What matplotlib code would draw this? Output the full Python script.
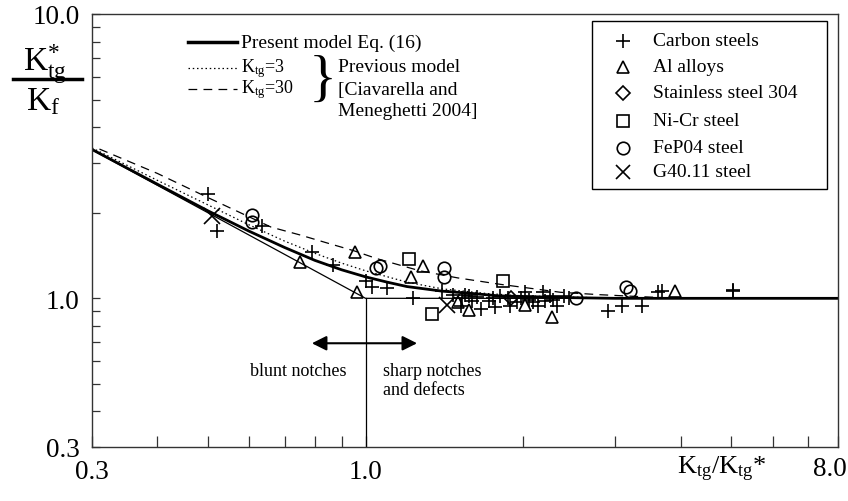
import numpy as np
import matplotlib.pyplot as plt
from matplotlib.lines import Line2D
from matplotlib.patches import Rectangle

plt.rcParams['font.family'] = ['Liberation Serif', 'DejaVu Serif']
plt.rcParams['mathtext.fontset'] = 'custom'
plt.rcParams['mathtext.rm'] = 'Liberation Serif'
plt.rcParams['mathtext.it'] = 'Liberation Serif:italic'
plt.rcParams['mathtext.bf'] = 'Liberation Serif:bold'

# model curves
model_x = [0.3, 0.4, 0.5, 0.6, 0.7, 0.8, 0.9, 1.0, 1.1, 1.2, 1.4, 1.6, 1.8, 2.0, 2.5, 3.0, 8.0]
model_y = [3.34, 2.52, 2.03, 1.72, 1.51, 1.36, 1.26, 1.19, 1.14, 1.10, 1.06, 1.04, 1.02, 1.015, 1.005, 1.0, 1.0]

k3_x = [0.3, 0.4, 0.5, 0.6, 0.7, 0.8, 0.9, 1.0, 1.2, 1.4, 1.7, 2.0, 2.5, 3.0, 8.0]
k3_y = [3.38, 2.60, 2.13, 1.81, 1.59, 1.44, 1.33, 1.25, 1.14, 1.08, 1.04, 1.02, 1.01, 1.0, 1.0]

k30_x = [0.31, 0.4, 0.5, 0.66, 0.75, 0.85, 0.95, 1.05, 1.16, 1.27, 1.5, 1.81, 2.36, 2.8, 3.5, 4.0, 8.0]
k30_y = [3.35, 2.75, 2.26, 1.78, 1.67, 1.56, 1.47, 1.38, 1.31, 1.25, 1.18, 1.12, 1.05, 1.03, 1.01, 1.0, 1.0]

limit_x = [0.3, 1.0, 8.0]
limit_y = [3.33, 1.0, 1.0]

# experimental data
carbon_x = [0.50, 0.52, 0.634, 0.79, 0.865, 1.0, 1.03, 1.10, 1.23, 1.40, 1.47, 1.53, 1.58,
            1.52, 1.66, 1.72, 1.77, 1.81, 1.87, 1.89, 1.95, 2.02, 2.09, 2.14, 2.18, 2.25,
            2.32, 2.91, 3.09, 3.38, 3.62, 3.69, 5.04, 5.04, 1.55, 1.60, 1.63, 1.75, 1.98,
            2.05, 2.20, 2.28, 2.40, 2.45]
carbon_y = [2.32, 1.72, 1.79, 1.45, 1.31, 1.15, 1.10, 1.09, 1.00, 1.06, 1.03, 1.00, 1.02,
            0.94, 0.92, 0.975, 0.93, 1.02, 1.00, 0.94, 0.97, 1.05, 0.97, 0.94, 1.05, 1.02,
            0.94, 0.90, 0.94, 0.94, 1.05, 1.06, 1.06, 1.07, 1.03, 0.98, 1.01, 1.00, 1.00,
            0.99, 0.98, 0.99, 1.02, 1.00]

al_x = [0.749, 0.955, 0.963, 1.22, 1.29, 1.50, 1.58, 2.02, 2.27, 3.91]
al_y = [1.34, 1.45, 1.05, 1.19, 1.30, 0.97, 0.91, 0.95, 0.86, 1.06]

ss304_x = [1.90]
ss304_y = [1.00]

nicr_x = [1.21, 1.83, 1.34]
nicr_y = [1.37, 1.15, 0.88]

fep_x = [0.607, 0.607, 1.047, 1.065, 1.41, 1.41, 2.52, 3.14, 3.20]
fep_y = [1.97, 1.85, 1.28, 1.30, 1.28, 1.19, 1.00, 1.10, 1.06]

g40_x = [0.509, 1.43]
g40_y = [1.94, 0.95]

legend_labels = ['Carbon steels', 'Al alloys', 'Stainless steel 304',
                 'Ni-Cr steel', 'FeP04 steel', 'G40.11 steel']
legend_markers = ['+', '^', 'D', 's', 'o', 'x']

fig = plt.figure(figsize=(8.48, 5.02), dpi=100)
ax = fig.add_axes([92/848, 54/502, 746/848, 433/502])
ax.set_xscale('log')
ax.set_yscale('log')
ax.set_xlim(0.3, 8.0)
ax.set_ylim(0.3, 10.0)

# lines
ax.plot(limit_x, limit_y, color='k', lw=0.9)
ax.plot([1.0, 1.0], [0.3, 1.0], color='k', lw=0.9)
ax.plot(k30_x, k30_y, color='k', lw=0.9, dashes=(7, 5))
ax.plot(k3_x, k3_y, color='k', lw=0.9, dashes=(1.2, 2.2))
ax.plot(model_x, model_y, color='k', lw=2.0)

mk = dict(ls='none', color='k', mfc='none', mew=1.2)
ax.plot(carbon_x, carbon_y, marker='+', ms=10, **mk)
ax.plot(al_x, al_y, marker='^', ms=9, **mk)
ax.plot(ss304_x, ss304_y, marker='D', ms=7, **mk)
ax.plot(nicr_x, nicr_y, marker='s', ms=9, **mk)
ax.plot(fep_x, fep_y, marker='o', ms=9, **mk)
ax.plot(g40_x, g40_y, marker='x', ms=11, **mk)

# blunt / sharp arrow
ax.annotate('', xy=(0.78, 0.695), xytext=(1.27, 0.695),
            arrowprops=dict(arrowstyle='<|-|>', color='k', lw=1.5, mutation_scale=22))
ax.text(0.743, 0.559, 'blunt notches', fontsize=13, ha='center', va='center')
ax.text(1.08, 0.515, 'sharp notches\nand defects', fontsize=13, ha='left', va='center',
        linespacing=1.15)

# ticks
ax.set_xticks([0.3, 1.0, 8.0])
ax.set_xticklabels(['0.3', '1.0', ''])
ax.set_yticks([0.3, 1.0, 10.0])
ax.set_yticklabels(['0.3', '1.0', '10.0'])
ax.xaxis.set_minor_locator(plt.FixedLocator([0.4, 0.5, 0.6, 0.7, 0.8, 0.9, 2, 3, 4, 5, 6, 7]))
ax.yaxis.set_minor_locator(plt.FixedLocator([0.4, 0.5, 0.6, 0.7, 0.8, 0.9, 2, 3, 4, 5, 6, 7, 8, 9]))
ax.xaxis.set_minor_formatter(plt.NullFormatter())
ax.yaxis.set_minor_formatter(plt.NullFormatter())
ax.tick_params(which='both', direction='in', labelsize=19.5, width=0.9, color='#333333')
ax.tick_params(axis='x', which='both', length=8, pad=9)
ax.tick_params(axis='y', which='both', length=6, pad=9)
for s in ax.spines.values():
    s.set_linewidth(1.0)
    s.set_color('#333333')

# last x tick label kept inside the figure, x axis title on the tick label row
ax.text(1.0 + 9/746, -0.05, '8.0', transform=ax.transAxes, fontsize=19.5,
        ha='right', va='center')
ax.text(4.8, -0.05, r'$\mathrm{K_{tg}/K_{tg}}$*', transform=ax.get_xaxis_transform(),
        fontsize=19, ha='center', va='center')

# y label as fraction
fig.text(45/848, 1 - 64/502, r'$\mathrm{K^{*}_{tg}}$', fontsize=24, ha='center', va='center')
fig.add_artist(Line2D([13/848, 82/848], [1 - 80/502, 1 - 80/502], color='k', lw=2.5))
fig.text(43/848, 1 - 102/502, r'$\mathrm{K_f}$', fontsize=24, ha='center', va='center')

# left legend (models)
def ax_xy(px, py):
    return (px - 92) / 746, (448 - py) / 433

x0, y0 = ax_xy(188, 43)
x1, _ = ax_xy(237, 43)
ax.plot([x0, x1], [y0, y0], color='k', lw=2.5, transform=ax.transAxes, clip_on=False)
_, y1 = ax_xy(0, 69)
ax.plot([x0, x1], [y1, y1], color='k', lw=0.9, dashes=(1.2, 2.2), transform=ax.transAxes)
_, y2 = ax_xy(0, 90)
ax.plot([x0, x1], [y2, y2], color='k', lw=0.9, dashes=(7, 5), transform=ax.transAxes)
tx, _ = ax_xy(241, 0)
ax.text(tx, y0, 'Present model Eq. (16)', transform=ax.transAxes, fontsize=14, va='center')
ax.text(tx, y1, r'$\mathrm{K_{tg}}$=3', transform=ax.transAxes, fontsize=13, va='center')
ax.text(tx, y2, r'$\mathrm{K_{tg}}$=30', transform=ax.transAxes, fontsize=13, va='center')
bx, by = ax_xy(323, 82)
ax.text(bx, by, '}', transform=ax.transAxes, fontsize=42, ha='center', va='center')
px_, _ = ax_xy(338, 0)
for txt, py in zip(['Previous model', '[Ciavarella and', 'Meneghetti 2004]'], [68, 90, 111]):
    ax.text(px_, ax_xy(0, py)[1], txt, transform=ax.transAxes, fontsize=14, va='center')

# right legend (materials)
lx0, ly0 = ax_xy(592, 190)
lx1, ly1 = ax_xy(827, 22)
ax.add_patch(Rectangle((lx0, ly0), lx1 - lx0, ly1 - ly0, transform=ax.transAxes,
                       fill=False, ec='k', lw=1.0))
mx, _ = ax_xy(623, 0)
tx2, _ = ax_xy(653, 0)
rows = [42, 68, 94, 122, 149, 173]
sizes = [10, 9, 7, 9, 9, 10]
for lab, m, py, s in zip(legend_labels, legend_markers, rows, sizes):
    yy = ax_xy(0, py)[1]
    ax.plot([mx], [yy], marker=m, ms=s, transform=ax.transAxes, **mk)
    ax.text(tx2, yy, lab, transform=ax.transAxes, fontsize=14, va='center')

fig.savefig('out.png', dpi=100)
